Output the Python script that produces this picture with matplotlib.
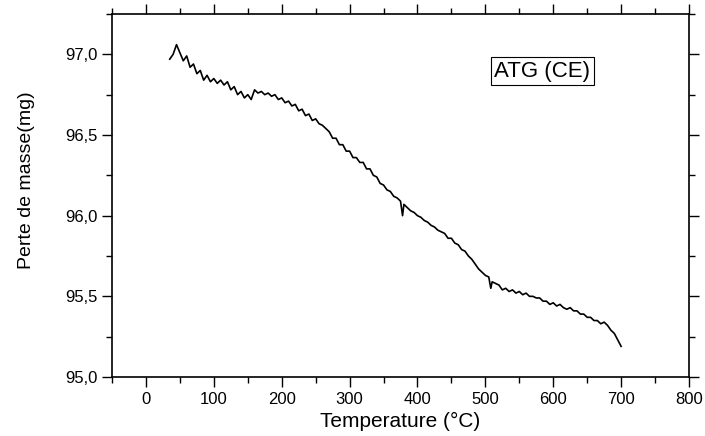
import matplotlib
matplotlib.use("Agg")
import matplotlib.pyplot as plt
from matplotlib.ticker import MultipleLocator, FuncFormatter

# ATG curve (temperature in °C, mass in mg)
temperature = [35, 40, 45, 50, 55, 60, 65, 70, 75, 80, 85, 90, 95, 100, 105, 110, 115, 120,
               125, 130, 135, 140, 145, 150, 155, 160, 165, 170, 175, 180, 185, 190, 195, 200,
               205, 210, 215, 220, 225, 230, 235, 240, 245, 250, 255, 260, 265, 270, 275, 280,
               285, 290, 295, 300, 305, 310, 315, 320, 325, 330, 335, 340, 345, 350, 355, 360,
               365, 370, 375, 378, 380, 385, 390, 395, 400, 405, 410, 415, 420, 425, 430, 435,
               440, 445, 450, 455, 460, 465, 470, 475, 480, 485, 490, 495, 500, 505, 508, 510,
               515, 520, 525, 530, 535, 540, 545, 550, 555, 560, 565, 570, 575, 580, 585, 590,
               595, 600, 605, 610, 615, 620, 625, 630, 635, 640, 645, 650, 655, 660, 665, 670,
               675, 680, 685, 690, 695, 700]
masse = [96.97, 97.00, 97.06, 97.01, 96.96, 96.99, 96.92, 96.94, 96.88, 96.90, 96.84, 96.87,
         96.83, 96.85, 96.82, 96.84, 96.81, 96.83, 96.78, 96.80, 96.75, 96.77, 96.73, 96.75,
         96.72, 96.78, 96.76, 96.77, 96.75, 96.76, 96.74, 96.75, 96.72, 96.73, 96.70, 96.71,
         96.68, 96.69, 96.65, 96.66, 96.62, 96.63, 96.59, 96.60, 96.57, 96.56, 96.54, 96.52,
         96.48, 96.48, 96.44, 96.44, 96.40, 96.40, 96.36, 96.36, 96.33, 96.33, 96.29, 96.29,
         96.25, 96.24, 96.20, 96.19, 96.16, 96.15, 96.12, 96.11, 96.09, 96.00, 96.07, 96.05,
         96.03, 96.02, 96.00, 95.99, 95.97, 95.96, 95.94, 95.93, 95.91, 95.90, 95.89, 95.86,
         95.86, 95.83, 95.82, 95.79, 95.78, 95.75, 95.73, 95.70, 95.67, 95.65, 95.63, 95.62,
         95.55, 95.59, 95.58, 95.57, 95.54, 95.55, 95.53, 95.54, 95.52, 95.53, 95.51, 95.52,
         95.50, 95.50, 95.49, 95.49, 95.47, 95.47, 95.45, 95.46, 95.44, 95.45, 95.43, 95.42,
         95.43, 95.41, 95.41, 95.39, 95.39, 95.37, 95.37, 95.35, 95.35, 95.33, 95.34, 95.32,
         95.29, 95.27, 95.23, 95.19]

plt.rcParams['font.family'] = ['Liberation Sans', 'DejaVu Sans']

fig = plt.figure(figsize=(7.05, 4.36), dpi=100)
ax = fig.add_axes([0.1589, 0.1353, 0.8184, 0.8326])

ax.plot(temperature, masse, color='black', linewidth=1.2)

ax.set_xlim(-50, 800)
ax.set_ylim(95.0, 97.25)
ax.xaxis.set_major_locator(MultipleLocator(100))
ax.xaxis.set_minor_locator(MultipleLocator(50))
ax.yaxis.set_major_locator(MultipleLocator(0.5))
ax.yaxis.set_minor_locator(MultipleLocator(0.25))
ax.yaxis.set_major_formatter(FuncFormatter(lambda v, p: f"{v:.1f}".replace('.', ',')))

ax.tick_params(which='both', direction='out', top=True, right=True, width=1.0, labelsize=12)
ax.tick_params(which='major', length=7)
ax.tick_params(which='minor', length=4)
for s in ax.spines.values():
    s.set_linewidth(1.2)

ax.set_xlabel("Temperature (°C)", fontsize=15, labelpad=4)
ax.set_ylabel("Perte de masse(mg)", fontsize=14)
ax.yaxis.set_label_coords(-0.134, 0.543)

ax.text(584, 96.895, "ATG (CE)", fontsize=16, ha='center', va='center',
        bbox=dict(boxstyle='square,pad=0.15', facecolor='white', edgecolor='black', linewidth=0.8))

fig.savefig("out.png", dpi=100)
